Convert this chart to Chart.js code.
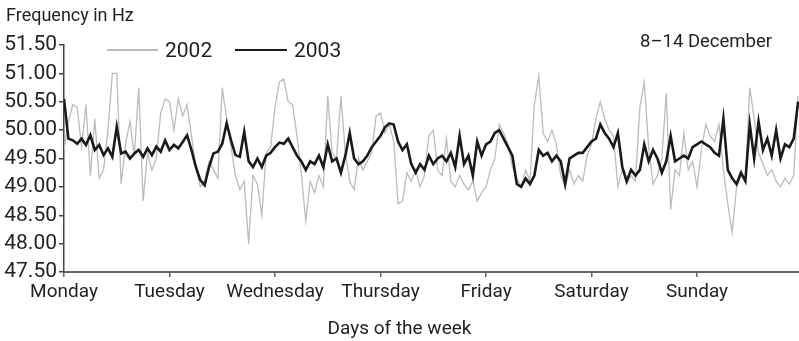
<!DOCTYPE html>
<html>
<head>
<meta charset="utf-8">
<script src="https://cdn.jsdelivr.net/npm/chart.js@4.4.1/dist/chart.umd.min.js"></script>
<style>
  html, body { margin: 0; padding: 0; background: #ffffff; }
  #wrap { position: relative; width: 799px; height: 341px; font-family: Roboto, "Noto Sans", sans-serif; color: #231f20; }
  #c { position: absolute; left: 0; top: 0; }
  .t { position: absolute; line-height: 1; white-space: nowrap; }
  .ln { position: absolute; }
</style>
</head>
<body>
<div id="wrap">
  <canvas id="c" width="799" height="341"></canvas>
  <div class="t" style="left:6px; top:6px; font-size:18px;">Frequency in Hz</div>
  <div class="t" style="left:640px; top:32px; font-size:18.5px;">8–14 December</div>
  <div class="ln" style="left:107px; top:49px; width:51px; height:1.5px; background:#bcbcbc;"></div>
  <div class="t" style="left:165px; top:40px; font-size:21px;">2002</div>
  <div class="ln" style="left:235px; top:49px; width:52px; height:2px; background:#1a1a1a;"></div>
  <div class="t" style="left:294px; top:40px; font-size:21px;">2003</div>
  <div class="t" style="left:0; width:799px; text-align:center; top:318px; font-size:19px;">Days of the week</div>
</div>
<script>
// Day names placed at the start of each day (x axis in hours)
const dayLabels = ['Monday', 'Tuesday', 'Wednesday', 'Thursday', 'Friday', 'Saturday', 'Sunday'];
const yTicks = [47.5, 48.0, 48.5, 49.0, 49.5, 50.0, 50.5, 51.0, 51.5];

// Hourly grid frequency, 8-14 December 2002 (grey)
const freq2002 = [
  49.65, 50.15, 50.45, 50.40, 49.70, 50.45, 49.20, 50.20, 49.15, 49.30, 50.00, 51.00,
  51.00, 49.05, 49.75, 50.15, 49.55, 50.75, 48.75, 49.60, 49.30, 49.50, 50.30, 50.55,
  50.50, 50.00, 50.55, 50.25, 50.45, 49.90, 49.35, 49.00, 49.10, 49.45, 49.30, 49.15,
  50.75, 50.20, 49.70, 49.20, 48.95, 49.10, 48.00, 49.20, 49.05, 48.50, 49.60, 49.70,
  50.40, 50.85, 50.90, 50.50, 50.45, 49.90, 49.20, 48.40, 49.10, 48.90, 49.20, 49.00,
  50.60, 49.60, 49.50, 50.60, 49.60, 49.10, 48.95, 49.50, 49.30, 49.45, 49.60, 50.25,
  50.30, 49.95, 50.10, 49.80, 48.70, 48.75, 49.25, 49.10, 49.30, 49.00, 49.20, 49.90,
  50.00, 49.30, 49.20, 49.85, 49.10, 49.00, 49.20, 49.05, 48.95, 49.10, 48.75, 48.90,
  49.00, 49.30, 49.50, 50.10, 49.95, 49.75, 49.35, 49.15, 49.00, 49.30, 49.10, 50.45,
  50.95, 49.95, 49.80, 50.00, 49.75, 49.20, 49.00, 49.30, 49.05, 49.20, 49.10, 49.55,
  49.75, 50.20, 50.50, 50.20, 50.00, 49.90, 49.00, 49.30, 49.05, 49.20, 49.10, 50.40,
  50.85, 49.70, 49.05, 49.20, 49.50, 50.65, 48.60, 49.30, 49.20, 49.95, 49.30, 49.45,
  49.00, 49.65, 50.10, 49.90, 49.80, 50.10, 49.30, 48.70, 48.20, 49.00, 49.20, 49.10,
  50.75, 50.20, 49.60, 49.40, 49.20, 49.30, 49.10, 49.00, 49.15, 49.05, 49.20, 50.60
];

// Hourly grid frequency, 8-14 December 2003 (black)
const freq2003 = [
  50.55, 49.85, 49.82, 49.76, 49.85, 49.74, 49.91, 49.65, 49.74, 49.56, 49.68, 49.53,
  50.06, 49.59, 49.62, 49.50, 49.59, 49.65, 49.53, 49.68, 49.56, 49.71, 49.62, 49.82,
  49.65, 49.74, 49.68, 49.79, 49.91, 49.65, 49.35, 49.12, 49.03, 49.35, 49.59, 49.62,
  49.76, 50.12, 49.82, 49.56, 49.53, 49.97, 49.45, 49.35, 49.50, 49.35, 49.55, 49.60,
  49.70, 49.78, 49.76, 49.85, 49.70, 49.55, 49.45, 49.30, 49.45, 49.40, 49.55, 49.35,
  49.75, 49.45, 49.50, 49.25, 49.55, 49.95, 49.50, 49.40, 49.45, 49.55, 49.70, 49.80,
  49.90, 50.05, 50.12, 50.10, 49.80, 49.65, 49.75, 49.40, 49.25, 49.40, 49.30, 49.55,
  49.40, 49.50, 49.55, 49.45, 49.60, 49.35, 49.90, 49.40, 49.55, 49.20, 49.80, 49.55,
  49.75, 49.80, 49.95, 50.00, 49.85, 49.70, 49.55, 49.05, 49.00, 49.15, 49.05, 49.20,
  49.65, 49.55, 49.60, 49.45, 49.55, 49.45, 49.05, 49.50, 49.55, 49.60, 49.60, 49.70,
  49.80, 49.85, 50.10, 49.95, 49.85, 49.70, 49.95, 49.35, 49.10, 49.30, 49.20, 49.30,
  49.75, 49.45, 49.65, 49.50, 49.25, 49.45, 49.90, 49.45, 49.50, 49.55, 49.50, 49.70,
  49.75, 49.80, 49.75, 49.70, 49.60, 49.55, 50.20, 49.30, 49.15, 49.05, 49.25, 49.10,
  50.10, 49.50, 50.15, 49.65, 49.85, 49.55, 50.00, 49.50, 49.75, 49.70, 49.85, 50.50
];

const toPts = arr => arr.map((v, i) => ({ x: i, y: v }));
const textColor = '#231f20';

new Chart(document.getElementById('c'), {
  type: 'line',
  data: {
    datasets: [
      { label: '2002', data: toPts(freq2002), borderColor: '#bcbcbc', borderWidth: 1.3, pointRadius: 0, tension: 0, order: 2 },
      { label: '2003', data: toPts(freq2003), borderColor: '#1a1a1a', borderWidth: 2.6, pointRadius: 0, tension: 0, order: 1 }
    ]
  },
  options: {
    responsive: false,
    devicePixelRatio: 1,
    animation: false,
    layout: { padding: { left: 0, right: 0, top: 45, bottom: 0 } },
    plugins: { legend: { display: false }, tooltip: { enabled: false } },
    scales: {
      x: {
        type: 'linear',
        min: 0,
        max: 167.2,
        afterBuildTicks: s => { s.ticks = dayLabels.map((d, i) => ({ value: i * 24 })); },
        afterFit: s => { s.height = 69; },
        ticks: {
          callback: (v) => dayLabels[Math.round(v / 24)],
          font: { family: 'Roboto', size: 19 },
          color: textColor,
          padding: 4,
          maxRotation: 0,
          autoSkip: false
        },
        grid: { drawOnChartArea: false, drawTicks: true, tickLength: 5, color: '#666', lineWidth: 1.5 },
        border: { display: true, color: '#666', width: 2 }
      },
      y: {
        min: 47.5,
        max: 51.5,
        afterBuildTicks: s => { s.ticks = yTicks.map(v => ({ value: v })); },
        afterFit: s => { s.width = 64; },
        ticks: {
          callback: v => Number(v).toFixed(2),
          font: { family: 'Roboto', size: 21 },
          color: textColor,
          padding: 2
        },
        grid: { drawOnChartArea: false, drawTicks: true, tickLength: 5, color: '#444', lineWidth: 1.5 },
        border: { display: true, color: '#444', width: 1.5 }
      }
    }
  }
});
</script>
</body>
</html>
